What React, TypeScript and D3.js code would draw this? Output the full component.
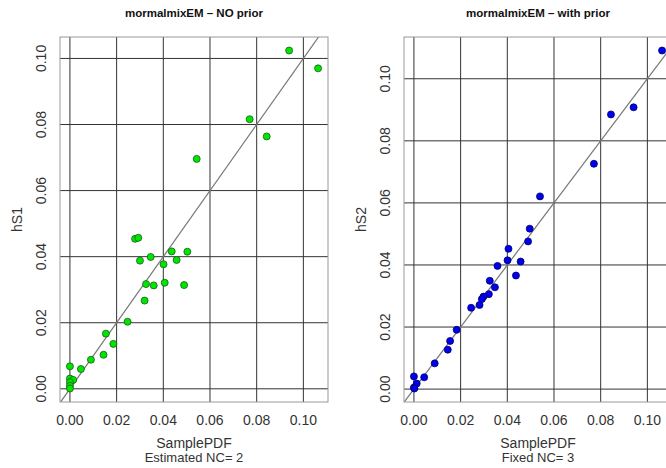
import React from 'react'
import * as d3 from 'd3'

const width = 666
const height = 468
const box = { top: 37, bottom: 402, width: 268 }

const tickValues = [0, 0.02, 0.04, 0.06, 0.08, 0.1]

// panel 1: NO prior
const samplePDF1 = [0.0939, 0.1063, 0.077, 0.0843, 0.0543, 0.0279, 0.0293, 0.0436, 0.0503, 0.0346,
  0.03, 0.0457, 0.0401, 0.0326, 0.0359, 0.0406, 0.0489, 0.032, 0.0247, 0.0154,
  0.0186, 0.0144, 0.009, 0.0047, 0, 0, 0.0014, 0, 0, 0]
const hS1 = [0.1024, 0.097, 0.0816, 0.0764, 0.0696, 0.0454, 0.0457, 0.0416, 0.0415, 0.0399,
  0.0388, 0.039, 0.0377, 0.0317, 0.0313, 0.0321, 0.0314, 0.0267, 0.0203, 0.0167,
  0.0136, 0.0103, 0.0088, 0.006, 0.0068, 0.0031, 0.0027, 0.002, 0.0009, 0.0001]

// panel 2: with prior
const samplePDF2 = [0.1063, 0.0941, 0.0844, 0.0771, 0.054, 0.0496, 0.0489, 0.0405, 0.0401, 0.0457,
  0.0358, 0.0437, 0.0325, 0.0347, 0.0321, 0.0298, 0.0291, 0.0281, 0.0245, 0.0183,
  0.0155, 0.0145, 0.0089, 0.0044, 0, 0.0012, 0, 0.0002]
const hS2 = [0.1091, 0.0908, 0.0885, 0.0726, 0.0621, 0.0517, 0.0476, 0.0452, 0.0415, 0.0411,
  0.0397, 0.0366, 0.0349, 0.0328, 0.0306, 0.0298, 0.029, 0.0271, 0.0262, 0.0191,
  0.0155, 0.0127, 0.0083, 0.0038, 0.0041, 0.0018, 0.0005, 0.0002]

const font = "'Liberation Sans', Arial, sans-serif"

// R style range: extend by 4% each side
function rRange(v: number[]): [number, number] {
  const [lo, hi] = d3.extent(v) as [number, number]
  const e = (hi - lo) * 0.04
  return [lo - e, hi + e]
}

type PanelProps = {
  left: number
  xs: number[]
  ys: number[]
  title: string
  ylab: string
  sub: string
  fill: string
  stroke: string
  id: string
}

const Panel = ({ left, xs, ys, title, ylab, sub, fill, stroke, id }: PanelProps) => {
  const x = d3.scaleLinear().domain(rRange(xs)).range([left, left + box.width])
  const y = d3.scaleLinear().domain(rRange(ys)).range([box.bottom, box.top])
  const fmt = d3.format('.2f')
  const cx = left + box.width / 2
  const cy = (box.top + box.bottom) / 2
  const [d0, d1] = x.domain()
  const lo = Math.min(d0, y.domain()[0])
  const hi = Math.max(d1, y.domain()[1])

  return (
    <g>
      <defs>
        <clipPath id={id}>
          <rect x={left} y={box.top} width={box.width} height={box.bottom - box.top} />
        </clipPath>
      </defs>
      <text x={cx} y={17} textAnchor="middle" fontFamily={font} fontWeight="bold" fontSize={11.5} fill="#111">{title}</text>
      <g clipPath={`url(#${id})`}>
        {tickValues.map(t => (
          <line key={'v' + t} x1={x(t)} x2={x(t)} y1={box.top} y2={box.bottom} stroke="#333" strokeWidth={1} />
        ))}
        {tickValues.map(t => (
          <line key={'h' + t} x1={left} x2={left + box.width} y1={y(t)} y2={y(t)} stroke="#333" strokeWidth={1} />
        ))}
        <line x1={x(lo)} y1={y(lo)} x2={x(hi)} y2={y(hi)} stroke="#777" strokeWidth={1.2} />
        {xs.map((d, i) => (
          <circle key={i} cx={x(d)} cy={y(ys[i])} r={3.5} fill={fill} stroke={stroke} strokeWidth={0.8} />
        ))}
      </g>
      <rect x={left} y={box.top} width={box.width} height={box.bottom - box.top} fill="none" stroke="#999" strokeWidth={1} />
      {tickValues.map(t => (
        <text key={'xt' + t} x={x(t)} y={425} textAnchor="middle" fontFamily={font} fontSize={14} fill="#333">{fmt(t)}</text>
      ))}
      {tickValues.map(t => (
        <text key={'yt' + t} transform={`translate(${left - 14},${y(t)}) rotate(-90)`} textAnchor="middle" fontFamily={font} fontSize={14} fill="#333">{fmt(t)}</text>
      ))}
      <text transform={`translate(${left - 38},${cy}) rotate(-90)`} textAnchor="middle" fontFamily={font} fontSize={14} fill="#333">{ylab}</text>
      <text x={cx} y={448} textAnchor="middle" fontFamily={font} fontSize={14} fill="#333">SamplePDF</text>
      <text x={cx} y={462} textAnchor="middle" fontFamily={font} fontSize={13} fill="#333">{sub}</text>
    </g>
  )
}

const App = () => {
  return (
    <div style={{ position: 'fixed', left: 0, top: 0 }}>
      <svg width={width} height={height} style={{ display: 'block', background: '#fff' }}>
        <Panel left={60} xs={samplePDF1} ys={hS1} title="mormalmixEM – NO prior" ylab="hS1"
          sub="Estimated NC= 2" fill="#00e600" stroke="#1a5a1a" id="clipA" />
        <Panel left={404} xs={samplePDF2} ys={hS2} title="mormalmixEM – with prior" ylab="hS2"
          sub="Fixed NC= 3" fill="#0000ee" stroke="#00006a" id="clipB" />
      </svg>
    </div>
  )
}

export default App
